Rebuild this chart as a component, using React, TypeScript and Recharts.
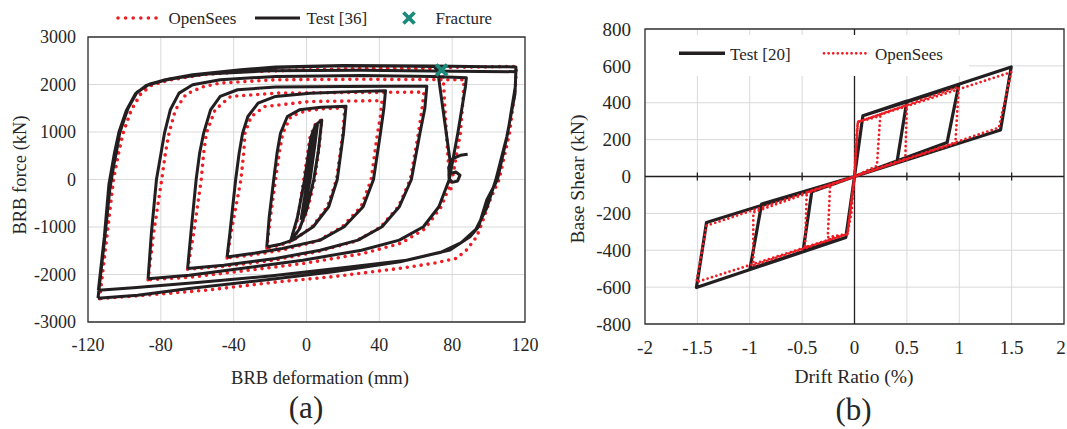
import React from 'react';
import {
  ComposedChart,
  Line,
  Scatter,
  XAxis,
  YAxis,
  CartesianGrid,
  ReferenceArea,
  ReferenceLine,
} from 'recharts';

// ---------------- Panel (a) : BRB force vs deformation ----------------
const xTicksA = [-120, -80, -40, 0, 40, 80, 120];
const yTicksA = [-3000, -2000, -1000, 0, 1000, 2000, 3000];

type P = [number, number];

// Test [36] – cycles (deformation mm, force kN)
const testC0: P[] = [[-3, -850], [0.5, 0], [3.5, 800], [6, 1150], [4.5, 700], [2, 0], [-1, -600], [-3, -850]];
const testC8: P[] = [[-8.6, -1280], [-5, -800], [-1, 0], [2.5, 900], [5, 1150], [8.4, 1250], [6.5, 600], [4, 0], [0, -650], [-4, -1050], [-8.6, -1280]];
const testC22: P[] = [[-21.8, -1420], [-20.5, -800], [-18, 0], [-16.2, 550], [-14.3, 974], [-10.5, 1326], [-3.9, 1467], [8, 1520], [21.7, 1540], [20.3, 974], [16.9, 0], [12.2, -573], [3.7, -995], [-7.6, -1277], [-15, -1370], [-21.8, -1420]];
const testC43: P[] = [[-43.6, -1630], [-42.1, -1136], [-38.9, 0], [-37, 552], [-35.1, 974], [-32.2, 1326], [-26.6, 1607], [-17, 1748], [2, 1818], [25, 1850], [43.4, 1870], [42.5, 1500], [40.6, 974], [36.8, 0], [31.1, -573], [20.7, -995], [7.5, -1277], [-13.3, -1452], [-30, -1560], [-43.6, -1630]];
const testC65: P[] = [[-65.3, -1875], [-63.5, -1136], [-60.6, 0], [-58.7, 552], [-56.5, 974], [-52.7, 1467], [-47.4, 1748], [-37.9, 1889], [-17, 1945], [20.7, 1960], [50, 1965], [66.1, 1965], [65, 1500], [62.3, 974], [57.6, 0], [51, -573], [41.5, -995], [28.3, -1277], [7.5, -1488], [-17, -1664], [-45.5, -1805], [-65.3, -1875]];
const testC88: P[] = [[-87, -2090], [-85.2, -1136], [-82.4, 0], [-79.9, 552], [-78, 974], [-74.8, 1467], [-70, 1818], [-62.5, 1994], [-47.4, 2100], [-17, 2170], [30, 2190], [70, 2170], [87.8, 2140], [87.3, 1959], [83.1, 974], [78.4, 0], [72.7, -573], [64.2, -995], [51, -1277], [30.2, -1488], [-2, -1699], [-36, -1875], [-64.4, -2016], [-87, -2090]];
const testC115: P[] = [[-114.5, -2500], [-110.7, -1136], [-107.5, 0], [-104.5, 552], [-102.6, 974], [-98.4, 1467], [-93.7, 1818], [-87, 1994], [-77.6, 2100], [-62.5, 2205], [-36, 2311], [-17, 2370], [20, 2400], [70, 2390], [100, 2375], [115, 2370], [114.7, 1959], [110.5, 974], [104.9, 0], [99, -432], [94.5, -995], [89.8, -1204], [78.8, -1484], [51.4, -1730], [14.7, -1940], [-17, -2090], [-64.4, -2297], [-92.8, -2437], [-114.5, -2500]];
const testC115b: P[] = [[-114.5, -2500], [-111, -1300], [-108, -200], [-105, 500], [-102.5, 1000], [-98, 1500], [-93, 1840], [-86, 2010], [-75, 2120], [-55, 2220], [-20, 2290], [30, 2300], [80, 2280], [115, 2270], [114.5, 1800], [110, 900], [104, 0], [99, -600], [93, -1050], [85, -1330], [74, -1530], [55, -1700], [20, -1860], [-20, -2030], [-60, -2170], [-95, -2280], [-114.3, -2330]];
const testFinal: P[] = [[-114.3, -2330], [-111, -1200], [-108.5, -100], [-105.5, 550], [-103, 1000], [-99, 1450], [-94, 1800], [-88, 1980], [-78, 2090], [-62, 2200], [-36, 2300], [-17, 2360], [20, 2395], [50, 2390], [70, 2380], [72, 2300], [78.8, 410], [81, 450], [84.5, 510], [88.5, 530]];
const testHook: P[] = [[79.3, 420], [78.2, 250], [78.3, 20], [80, -60], [83, -30], [84.3, 90], [82, 160], [79.5, 130]];

// OpenSees – cycles
const osC8: P[] = [[-8.6, -1290], [-5, -850], [-1.5, 0], [2, 900], [5, 1180], [8.4, 1260], [7, 700], [4.5, 0], [0.5, -650], [-4, -1050], [-8.6, -1290]];
const osC22: P[] = [[-21.8, -1440], [-19.5, -700], [-17, 0], [-15, 550], [-13, 974], [-8.6, 1326], [0, 1450], [10, 1490], [21, 1510], [20, 974], [16.5, 0], [11.5, -573], [3, -1000], [-8, -1300], [-15, -1390], [-21.8, -1440]];
const osC43: P[] = [[-43.6, -1650], [-41.5, -1136], [-36, 0], [-34.5, 552], [-33.8, 974], [-30.4, 1326], [-22.8, 1537], [1.8, 1642], [20, 1650], [41.5, 1660], [40.5, 1300], [39, 974], [35.5, 0], [30, -573], [19.5, -1000], [6, -1300], [-14, -1490], [-30, -1590], [-43.6, -1650]];
const osC65: P[] = [[-65.3, -1890], [-62, -1136], [-57.8, 0], [-56.5, 552], [-55, 974], [-50.2, 1467], [-41.7, 1748], [-17, 1818], [20, 1830], [64.5, 1840], [63.5, 1500], [61.5, 974], [57, 0], [50.5, -573], [40.5, -1010], [27, -1300], [6, -1520], [-18, -1700], [-46, -1830], [-65.3, -1890]];
const osC88: P[] = [[-87, -2110], [-84, -1136], [-79.5, 0], [-77.5, 552], [-75.5, 974], [-72, 1467], [-66, 1800], [-57, 1950], [-47.4, 2030], [-17, 2100], [30, 2110], [86.5, 2100], [86, 1700], [84.5, 974], [80, 0], [74, -573], [65, -1040], [52, -1340], [31, -1560], [-2, -1770], [-36, -1930], [-64.4, -2060], [-87, -2110]];
const osC115: P[] = [[-113.6, -2508], [-109.4, -1136], [-106, 0], [-103.2, 552], [-100.7, 974], [-96.2, 1467], [-90.9, 1818], [-85.2, 1994], [-75.7, 2100], [-58.7, 2205], [-36, 2275], [1.8, 2311], [39.6, 2346], [80, 2360], [115.3, 2381], [114.7, 1959], [111.5, 974], [105.8, 0], [100.8, -432], [97, -850], [93.5, -1204], [88, -1480], [82.5, -1660], [69.6, -1765], [51.4, -1870], [14.7, -2046], [-17, -2160], [-55, -2330], [-92.8, -2450], [-113.6, -2508]];
const osFinal: P[] = [[-113.6, -2508], [-110, -1300], [-106.5, -100], [-103.5, 520], [-101, 950], [-96.5, 1440], [-91, 1800], [-85, 1985], [-75, 2095], [-58, 2200], [-36, 2270], [2, 2305], [40, 2335], [74.5, 2340], [75.1, 2164], [76, 1500], [77.3, 700], [78.8, -80], [79.8, -300]];

const fracturePoint = [{ x: 74.2, y: 2305 }];

// ---------------- Panel (b) : Base shear vs drift ratio ----------------
const xTicksB = [-2, -1.5, -1, -0.5, 0, 0.5, 1, 1.5, 2];
const yTicksB = [-800, -600, -400, -200, 0, 200, 400, 600, 800];
const axisMarksB = [-1.5, -1, -0.5, 0.5, 1, 1.5];

const testB: P[] = [[0, 0], [0.08, 330], [0.5, 409], [0.405, 76], [0, 0], [-0.083, -331], [-0.49, -400], [-0.408, -83], [0, 0], [0.08, 330], [0.995, 494], [0.884, 184], [0, 0], [-0.083, -331], [-0.998, -501], [-0.887, -150], [0, 0], [0.08, 330], [1.496, 594], [1.394, 252], [0, 0], [-0.083, -331], [-1.509, -602], [-1.413, -250], [0, 0]];
const osB: P[] = [[0, 0], [0.015, 200], [0.032, 295], [0.246, 328], [0.214, 58], [0, 0], [-0.03, -200], [-0.067, -312], [-0.255, -330], [-0.233, -50], [0, 0], [0.032, 295], [0.5, 386], [0.485, 97], [0, 0], [-0.067, -312], [-0.472, -384], [-0.456, -86], [0, 0], [0.032, 295], [0.995, 486], [0.963, 180], [0, 0], [-0.067, -312], [-0.966, -483], [-0.966, -195], [0, 0], [0.032, 295], [1.496, 566], [1.378, 265], [0, 0], [-0.067, -312], [-1.509, -573], [-1.413, -267], [0, 0]];

// ---------------- helpers ----------------
type Pt = { x: number; y: number | null };
const joinSegments = (...segs: P[][]): Pt[] => {
  const out: Pt[] = [];
  segs.forEach((s, i) => {
    if (i > 0) out.push({ x: s[0][0], y: null });
    s.forEach(([x, y]) => out.push({ x, y }));
  });
  return out;
};

const testAData = joinSegments(testC0, testC8, testC22, testC43, testC65, testC88, testC115, testC115b, testFinal, testHook);
const osAData = joinSegments(osC8, osC22, osC43, osC65, osC88, osC115, osFinal);
const testBData = joinSegments(testB);
const osBData = joinSegments(osB);
const axisMarkData = axisMarksB.map((x) => ({ x, y: 0 }));

const FONT = '"Liberation Serif", "Times New Roman", Tinos, "DejaVu Serif", serif';
const RED = '#EE1D24';
const BLACK = '#231F20';
const TEAL = '#1B8A7A';
const GRID = '#D9D9D9';
const TEXT = '#262626';

const FractureMark = (props: any) => {
  const { cx, cy } = props;
  const r = 5.5;
  return (
    <g>
      <line x1={cx - r} y1={cy - r} x2={cx + r} y2={cy + r} stroke={TEAL} strokeWidth={3.8} />
      <line x1={cx - r} y1={cy + r} x2={cx + r} y2={cy - r} stroke={TEAL} strokeWidth={3.8} />
    </g>
  );
};

const AxisMark = (props: any) => {
  const { cx, cy } = props;
  return <line x1={cx} x2={cx} y1={cy - 4} y2={cy + 4} stroke={BLACK} strokeWidth={1.3} />;
};

const TickB = (props: any) => {
  const { x, y, payload } = props;
  const v = payload.value;
  const nudge = v === 2 ? -3 : 0;
  return (
    <text x={x + nudge} y={y} dy="0.71em" textAnchor="middle" fontSize={19} fill={TEXT} fontFamily={FONT} style={{ fontFamily: FONT }}>
      {String(v)}
    </text>
  );
};

const tickStyleA = { fontSize: 18, fill: TEXT, fontFamily: FONT, style: { fontFamily: FONT } };
const tickStyleB = { fontSize: 19, fill: TEXT, fontFamily: FONT, style: { fontFamily: FONT } };

export default function App() {
  return (
    <div style={{ position: 'absolute', left: 0, top: 0, width: 1067, height: 429, background: '#fff', overflow: 'hidden', fontFamily: FONT }}>
      <div style={{ position: 'absolute', left: 0, top: 0, fontFamily: FONT }}>
        <ComposedChart width={545} height={429} margin={{ top: 37, right: 20, bottom: 77, left: 0 }} style={{ fontFamily: FONT }}>
          <CartesianGrid stroke={GRID} strokeWidth={1} />
          <XAxis
            type="number"
            dataKey="x"
            domain={[-120, 120]}
            ticks={xTicksA}
            allowDataOverflow
            height={30}
            axisLine={false}
            tickLine={false}
            tickSize={0}
            tickMargin={16}
            tick={tickStyleA}
            interval={0}
          />
          <YAxis
            type="number"
            dataKey="y"
            domain={[-3000, 3000]}
            ticks={yTicksA}
            allowDataOverflow
            width={88}
            axisLine={false}
            tickLine={false}
            tickSize={0}
            tickMargin={12}
            tick={tickStyleA}
            interval={0}
          />
          <Line
            data={osAData}
            dataKey="y"
            type="linear"
            stroke={RED}
            strokeWidth={3.6}
            strokeDasharray="0 7"
            strokeLinecap="round"
            dot={false}
            activeDot={false}
            isAnimationActive={false}
            connectNulls={false}
          />
          <Line
            data={testAData}
            dataKey="y"
            type="linear"
            stroke={BLACK}
            strokeWidth={3}
            strokeLinejoin="round"
            dot={false}
            activeDot={false}
            isAnimationActive={false}
            connectNulls={false}
          />
          <Scatter data={fracturePoint} shape={FractureMark} isAnimationActive={false} />
          <ReferenceArea x1={-120} x2={120} y1={-3000} y2={3000} fill="none" fillOpacity={0} stroke="#333333" strokeWidth={1.3} ifOverflow="visible" />
        </ComposedChart>
      </div>

      <div style={{ position: 'absolute', left: 545, top: 0, fontFamily: FONT }}>
        <ComposedChart width={522} height={429} margin={{ top: 29, right: 3, bottom: 75, left: 0 }} style={{ fontFamily: FONT }}>
          <CartesianGrid stroke={GRID} strokeWidth={1} />
          <XAxis
            type="number"
            dataKey="x"
            domain={[-2, 2]}
            ticks={xTicksB}
            allowDataOverflow
            height={30}
            axisLine={false}
            tickLine={false}
            tickSize={0}
            tickMargin={17}
            tick={<TickB />}
            interval={0}
          />
          <YAxis
            type="number"
            dataKey="y"
            domain={[-800, 800]}
            ticks={yTicksB}
            allowDataOverflow
            width={100}
            axisLine={false}
            tickLine={false}
            tickSize={0}
            tickMargin={14}
            tick={tickStyleB}
            interval={0}
          />
          <ReferenceLine x={0} stroke={BLACK} strokeWidth={1.3} />
          <ReferenceLine y={0} stroke={BLACK} strokeWidth={1.3} />
          <Scatter data={axisMarkData} shape={AxisMark} isAnimationActive={false} />
          <Line
            data={testBData}
            dataKey="y"
            type="linear"
            stroke={BLACK}
            strokeWidth={3.2}
            strokeLinejoin="round"
            dot={false}
            activeDot={false}
            isAnimationActive={false}
          />
          <Line
            data={osBData}
            dataKey="y"
            type="linear"
            stroke={RED}
            strokeWidth={2.8}
            strokeDasharray="0 4.6"
            strokeLinecap="round"
            dot={false}
            activeDot={false}
            isAnimationActive={false}
          />
          <ReferenceArea x1={-2} x2={2} y1={-800} y2={800} fill="none" fillOpacity={0} stroke="#333333" strokeWidth={1.3} ifOverflow="visible" />
        </ComposedChart>
      </div>

      <svg width={1067} height={429} style={{ position: 'absolute', left: 0, top: 0, pointerEvents: 'none', fontFamily: FONT }}>
        {/* Legend (a) */}
        <line x1={118} y1={18} x2={157} y2={18} stroke={RED} strokeWidth={3.6} strokeDasharray="0 7.6" strokeLinecap="round" />
        <text x={168.5} y={24} fontSize={17} fill={TEXT}>OpenSees</text>
        <line x1={255} y1={18} x2={300} y2={18} stroke={BLACK} strokeWidth={3} />
        <text x={306.5} y={24} fontSize={17} fill={TEXT}>Test [36]</text>
        <line x1={403.5} y1={12.5} x2={414.5} y2={23.5} stroke={TEAL} strokeWidth={3.8} />
        <line x1={403.5} y1={23.5} x2={414.5} y2={12.5} stroke={TEAL} strokeWidth={3.8} />
        <text x={435.5} y={24} fontSize={17} fill={TEXT}>Fracture</text>

        {/* Axis titles (a) */}
        <text x={320} y={384} fontSize={18.5} fill={TEXT} textAnchor="middle">BRB deformation (mm)</text>
        <text transform="translate(25.5,175) rotate(-90)" fontSize={18.5} fill={TEXT} textAnchor="middle">BRB force (kN)</text>
        <text x={306} y={418} fontSize={31} fill={TEXT} textAnchor="middle">(a)</text>

        {/* Legend (b) */}
        <rect x={646} y={35} width={323} height={41} fill="#ffffff" />
        <line x1={679} y1={53.3} x2={725} y2={53.3} stroke={BLACK} strokeWidth={3.5} />
        <text x={730} y={59.5} fontSize={17} fill={TEXT}>Test [20]</text>
        <line x1={824} y1={53.3} x2={868} y2={53.3} stroke={RED} strokeWidth={2.8} strokeDasharray="0 4.6" strokeLinecap="round" />
        <text x={875} y={59.5} fontSize={17} fill={TEXT}>OpenSees</text>

        {/* Axis titles (b) */}
        <text x={854} y={383} fontSize={19.5} fill={TEXT} textAnchor="middle">Drift Ratio (%)</text>
        <text transform="translate(584,179) rotate(-90)" fontSize={19.5} fill={TEXT} textAnchor="middle">Base Shear (kN)</text>
        <text x={853.5} y={420} fontSize={31} fill={TEXT} textAnchor="middle">(b)</text>
      </svg>
    </div>
  );
}
